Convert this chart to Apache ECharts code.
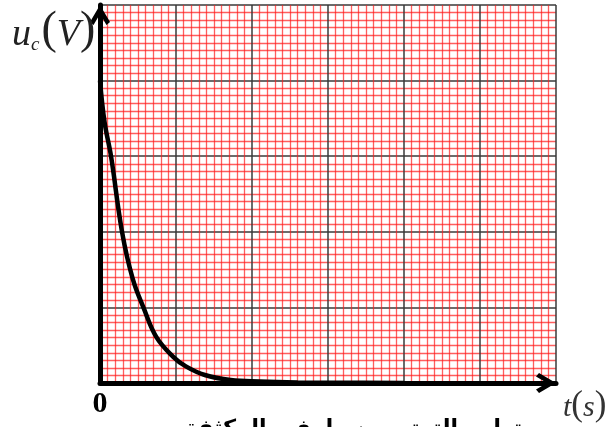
<!DOCTYPE html>
<html><head><meta charset="utf-8">
<script src="https://cdn.jsdelivr.net/npm/echarts@6/dist/echarts.min.js"></script>
<style>html,body{margin:0;padding:0;background:#fff}#c{width:616px;height:427px}</style>
</head><body><div id="c"></div>
<script>
const tValues  = [0, 0.06, 0.145, 0.29, 0.43, 0.575, 0.74, 0.96, 1.13, 1.38, 1.72, 2.1, 2.6, 3.2, 4.0];
const ucValues = [4.0, 3.45, 3.0, 2.0, 1.38, 0.99, 0.61, 0.35, 0.22, 0.106, 0.04, 0.02, 0.008, 0.003, 0.0];
const xTickLabels = ['0'];
const caption = 'تطور التوتر بين طرفي المكثفة';

const chart = echarts.init(document.getElementById('c'), null, {renderer:'canvas'});
const chev = 'path://M10,0 L20,17 L16.5,20 L10,9 L3.5,20 L0,17 Z';
const minorStyle = {color:'#ff1a1a', width:1.3, opacity:0.7};
chart.setOption({
  animation:false,
  grid:{left:100, top:5, width:456, height:378, containLabel:false},
  xAxis:{type:'value', min:0, max:6, interval:1,
    axisLine:{show:true, lineStyle:{color:'#000', width:5}, symbol:['none', chev], symbolSize:[20,20], symbolOffset:[0,-10]},
    axisTick:{show:false},
    axisLabel:{show:true, margin:6, color:'#000', fontFamily:'Liberation Serif', fontWeight:'bold', fontSize:30,
      formatter:v => (v===0 ? xTickLabels[0] : '')},
    splitLine:{show:true, lineStyle:{color:'#3a3a3a', width:1.5}},
    minorTick:{show:false, splitNumber:10},
    minorSplitLine:{show:true, lineStyle:minorStyle}
  },
  yAxis:{type:'value', min:0, max:5, interval:1,
    axisLine:{show:true, lineStyle:{color:'#000', width:5}, symbol:['none', chev], symbolSize:[20,20], symbolOffset:[0,-10]},
    axisTick:{show:false}, axisLabel:{show:false},
    splitLine:{show:true, lineStyle:{color:'#3a3a3a', width:1.5}},
    minorTick:{show:false, splitNumber:10},
    minorSplitLine:{show:true, lineStyle:minorStyle}
  },
  series:[{type:'line', smooth:0.4, showSymbol:false, z:5,
    data:tValues.map((t,i)=>[t, ucValues[i]]),
    lineStyle:{color:'#000', width:4.5}}],
  graphic:[
    {type:'text', left:12, top:8, z:10, style:{
      text:'{u|u}{c|c}{p|(}{v|V}{p|)}',
      rich:{
        u:{fontFamily:'Liberation Serif', fontStyle:'italic', fontSize:38, fill:'#222', verticalAlign:'bottom'},
        c:{fontFamily:'Liberation Serif', fontStyle:'italic', fontSize:19, fill:'#222', padding:[0,2,0,0], verticalAlign:'bottom'},
        v:{fontFamily:'Liberation Serif', fontStyle:'italic', fontSize:38, fill:'#222', verticalAlign:'bottom'},
        p:{fontFamily:'Liberation Serif', fontSize:46, fill:'#222', verticalAlign:'bottom'}
      }}},
    {type:'text', left:563, top:388, z:10, style:{
      text:'{t|t}{p|(}{s|s}{p|)}',
      rich:{
        t:{fontFamily:'Liberation Serif', fontStyle:'italic', fontSize:30, fill:'#333', verticalAlign:'bottom'},
        s:{fontFamily:'Liberation Serif', fontStyle:'italic', fontSize:30, fill:'#333', verticalAlign:'bottom'},
        p:{fontFamily:'Liberation Serif', fontSize:35, fill:'#333', verticalAlign:'bottom'}
      }}},
    {type:'text', left:185, top:418, z:10, style:{
      text:caption, fontFamily:'DejaVu Sans', fontWeight:'bold', fontSize:22, fill:'#000'}}
  ]
});
</script></body></html>
